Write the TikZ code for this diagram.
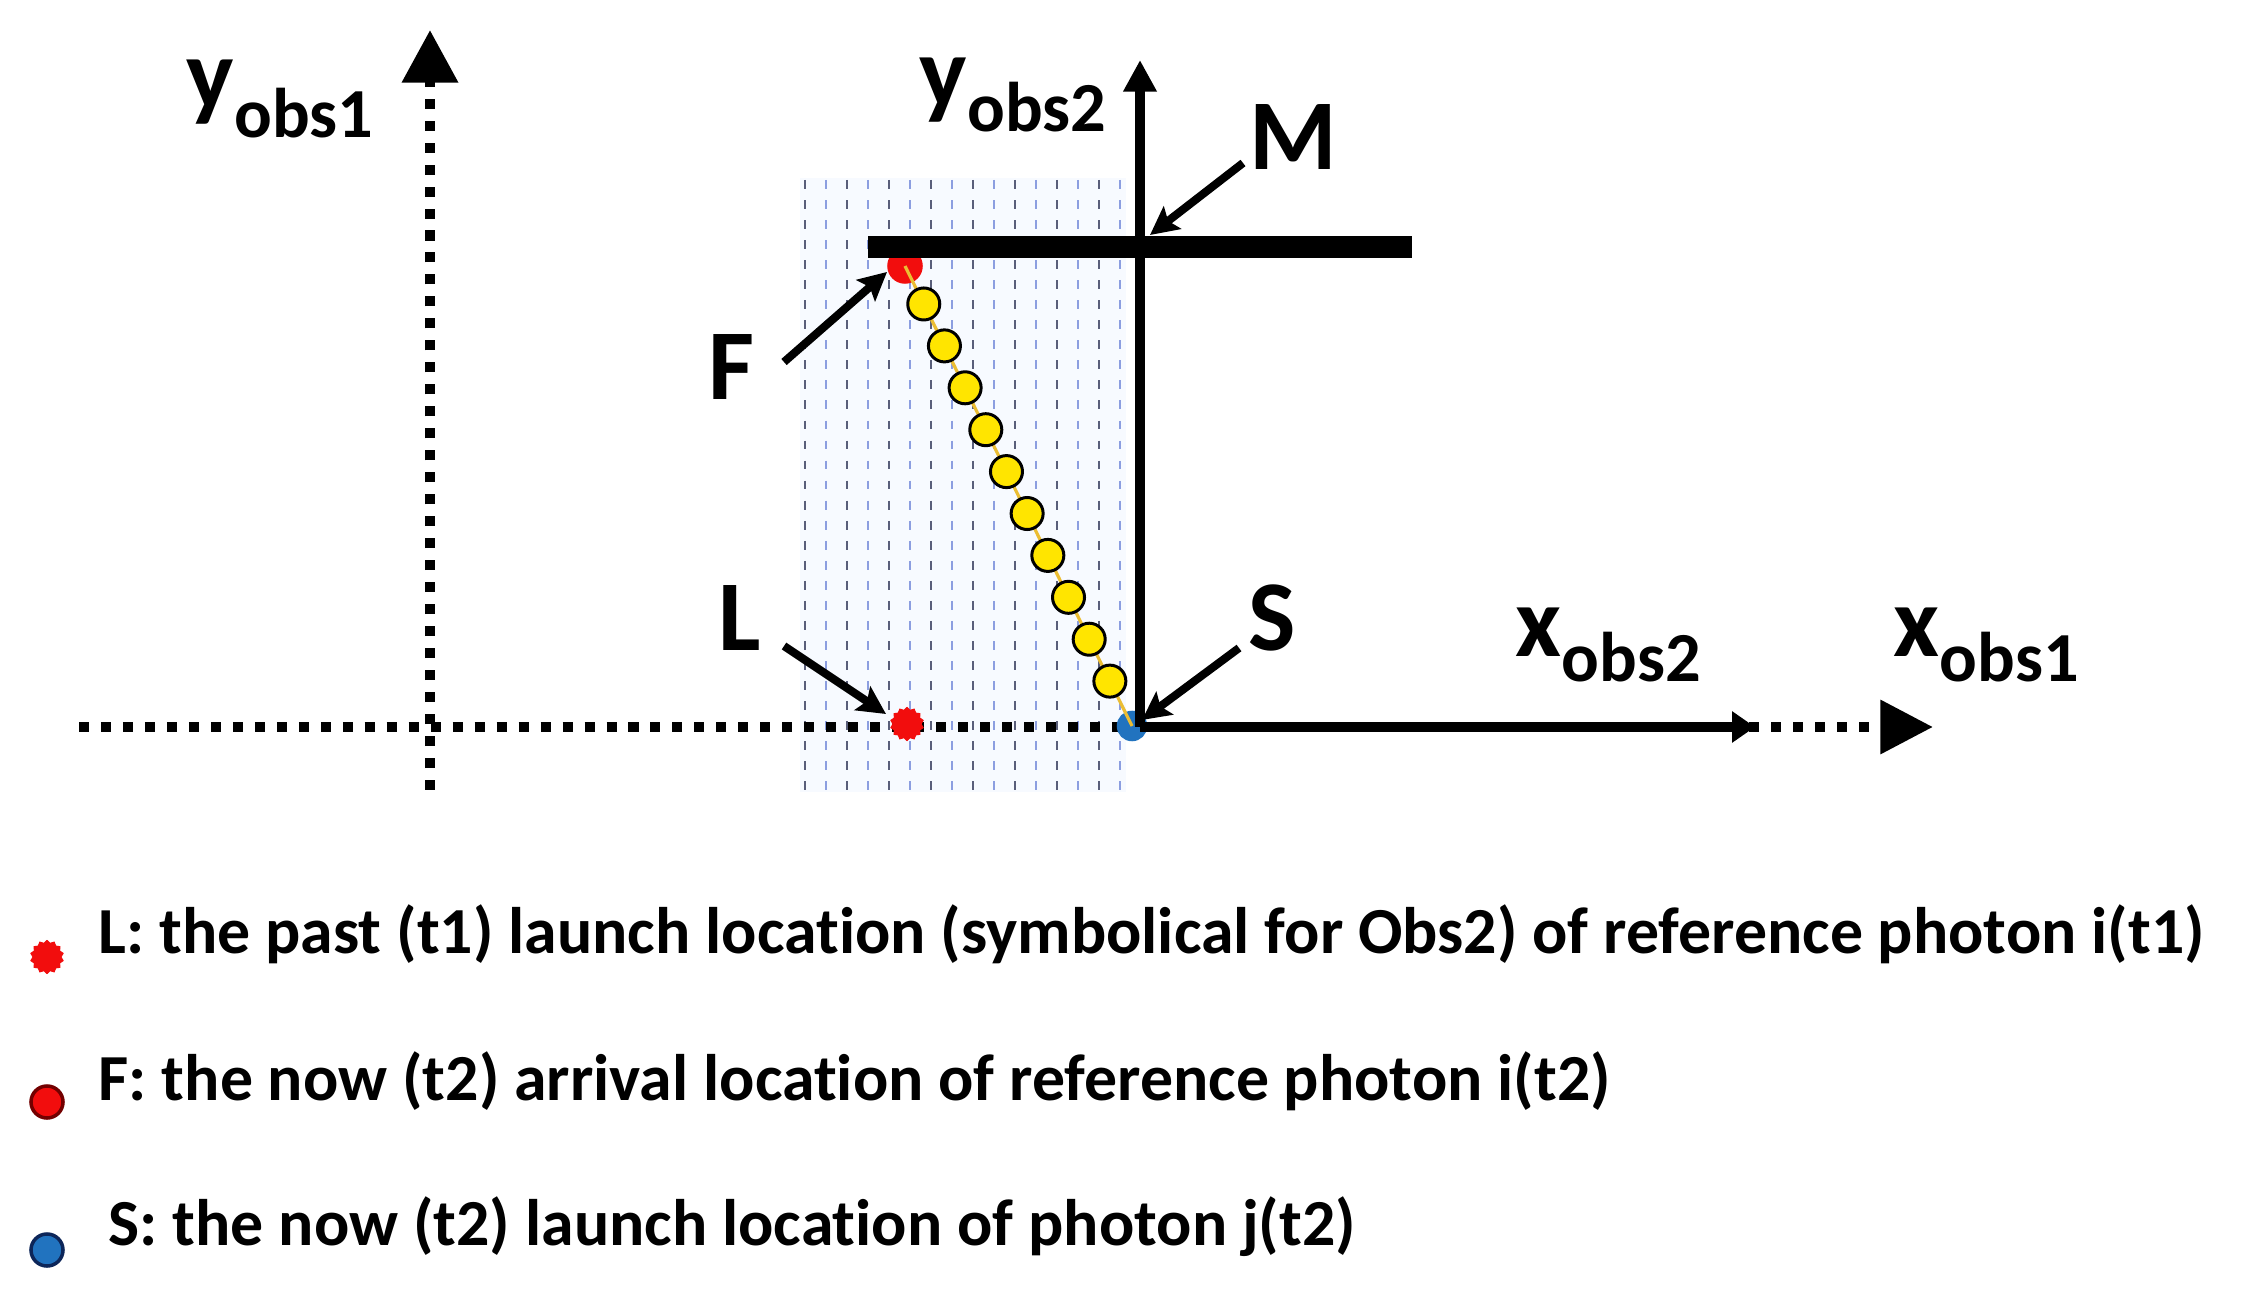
\documentclass[tikz,border=0pt]{standalone}
\usepackage{fontspec}
\setmainfont{Carlito}[Ligatures={NoCommon}]
\usetikzlibrary{arrows.meta,shapes.geometric}
\definecolor{ptred}{rgb}{0.95,0.05,0.05}
\definecolor{ptdred}{rgb}{0.45,0.0,0.0}
\definecolor{ptblue}{rgb}{0.13,0.45,0.75}
\definecolor{ptdblue}{rgb}{0.05,0.15,0.35}
\definecolor{gridA}{rgb}{0.35,0.37,0.48}
\definecolor{gridB}{rgb}{0.55,0.62,0.88}
\definecolor{tint}{rgb}{0.97,0.98,1}
\definecolor{ylw}{rgb}{1,0.9,0.0}
\definecolor{ylwline}{rgb}{0.92,0.74,0.2}
\tikzset{
  lab/.style={font=\bfseries\fontsize{28.5}{30}\selectfont, inner sep=0pt, anchor=base west},
  axlab/.style={font=\bfseries\fontsize{28.5}{30}\selectfont, inner sep=0pt, anchor=base west},
  leg/.style={font=\bfseries\fontsize{18.7}{20}\selectfont, inner sep=0pt, anchor=base west},
  dotaxis/.style={line width=2.85pt, dash pattern=on 2.85pt off 3.4pt},
  solidaxis/.style={line width=2.7pt},
  ptr/.style={line width=2.3pt, -{Stealth[length=8pt,width=8pt,inset=1.5pt]}},
  gridline/.style={line width=0.6pt, dash pattern=on 2.5pt off 3.2pt},
  yc/.style={circle, draw=black, line width=0.85pt, fill=ylw, minimum width=0.30cm, inner sep=0pt},
  redspiky/.style={star, star points=14, star point ratio=1.18, fill=ptred, draw=ptred, line width=0.3pt, minimum size=0.33cm, inner sep=0pt},
  redring/.style={circle, fill=ptred, draw=ptdred, line width=1pt, minimum size=0.32cm, inner sep=0pt},
  bluering/.style={circle, fill=ptblue, draw=ptdblue, line width=1pt, minimum size=0.32cm, inner sep=0pt},
}
\newcommand{\axsub}[3]{#1{\fontsize{20}{22}\selectfont\raisebox{-#2}{obs#3}}}
\begin{document}
\begin{tikzpicture}[x=0.01cm,y=-0.01cm]
\useasboundingbox (0,0) rectangle (2243,1292);
\fill[white] (0,0) rectangle (2243,1292);

% tinted region with thin dashed vertical lines
\fill[tint] (800,178) rectangle (1126,792);
\foreach \i in {0,...,15}{
  \pgfmathtruncatemacro{\odd}{mod(\i,2)}
  \ifnum\odd=0
    \draw[gridline, gridA] ({805+21*\i},180) -- ({805+21*\i},790);
  \else
    \draw[gridline, gridB] ({805+21*\i},180) -- ({805+21*\i},790);
  \fi
}

% dotted axes of Obs1
\coordinate (O1b) at (430,790);
\coordinate (O1t) at (430,30);
\draw[dotaxis, -{Triangle[length=15pt,width=15.4pt]}] (O1b) -- (O1t);
\coordinate (X1l) at (79,727);
\coordinate (X1r) at (1933,727);
\draw[dotaxis, -{Triangle[length=15pt,width=14.8pt]}] (X1l) -- (X1r);

% dots F, L, S
\node[redring, draw=ptred] (F) at (905,266) {};
\node[redspiky] (L) at (907,724) {};
\node[bluering, draw=ptblue, minimum size=0.27cm] (S) at (1132,726) {};

% solid axes of Obs2
\coordinate (X2r) at (1755,727);
\coordinate (Y2t) at (1140,60);
\coordinate (O2) at (1140,727);
\draw[solidaxis, -{Triangle[length=6.5pt,width=8.5pt]}] (O2) -- (X2r);
\draw[solidaxis, -{Triangle[length=9pt,width=9pt]}] (O2) -- (Y2t);

% mirror bar M
\coordinate (Ml) at (868,247);
\coordinate (Mr) at (1412,247);
\draw[line width=6pt] (Ml) -- (Mr);

% photon path with yellow circles
\draw[ylwline, line width=0.9pt] (F.center) -- (S.center);
\foreach \k in {0,...,9}{
  \path (F.center) -- (S.center) node[yc, minimum height=0.32cm, pos={0.0826+\k*0.0911}] (c\k) {};
}

% labels
\node[lab] (Flab) at (708,400) {F};
\node[lab] (Llab) at (718,651) {L};
\node[lab] (Mlab) at (1249,170) {M};
\node[lab] (Slab) at (1248,651) {S};

\node[axlab] (y1) at (186,109) {\axsub{y}{8pt}{1}};
\node[axlab] (y2) at (919,107) {\axsub{y}{7pt}{2}};
\node[axlab] (x2) at (1515,657) {\axsub{x}{7pt}{2}};
\node[axlab] (x1) at (1893,657) {\axsub{x}{7pt}{1}};

% pointer arrows
\coordinate (Fa) at (784,362); \coordinate (Ft) at (887,272);
\coordinate (La) at (784,646); \coordinate (Lt) at (886,714);
\coordinate (Ma) at (1243,163); \coordinate (Mt) at (1150,235);
\coordinate (Sa) at (1239,648); \coordinate (St) at (1142,720);
\draw[ptr] (Fa) -- (Ft);
\draw[ptr] (La) -- (Lt);
\draw[ptr] (Ma) -- (Mt);
\draw[ptr] (Sa) -- (St);

% legend
\node[redspiky] (k1) at (47,957) {};
\node[redring] (k2) at (47,1102) {};
\node[bluering] (k3) at (47,1250) {};
\node[leg] (t1) at (98,953) {L: the past (t1) launch location (symbolical for Obs2) of reference photon i(t1)};
\node[leg] (t2) at (98,1100) {F: the now (t2) arrival location of reference photon i(t2)};
\node[leg] (t3) at (108,1245) {S: the now (t2) launch location of photon j(t2)};
\end{tikzpicture}
\end{document}
